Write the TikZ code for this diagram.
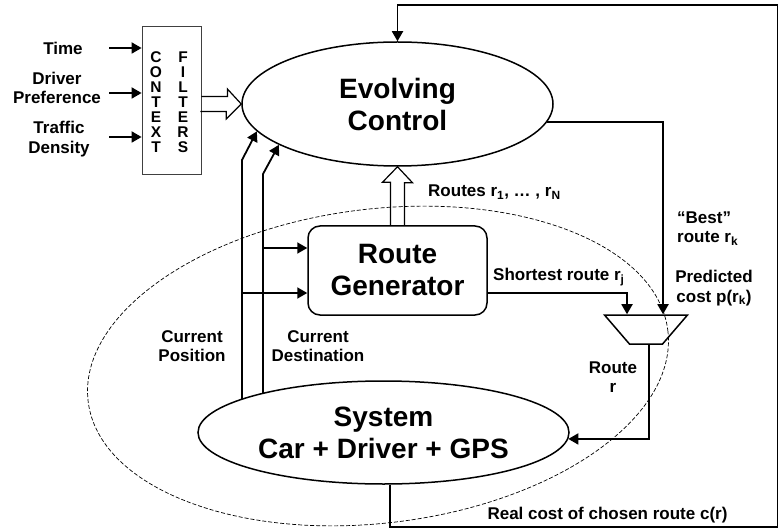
\documentclass[tikz,border=0pt]{standalone}
\usepackage{fontspec}
\setmainfont{Liberation Sans}
\usetikzlibrary{arrows.meta,shapes.geometric,calc}

\begin{document}
\begin{tikzpicture}[x=1pt,y=-1pt,
  lbl/.style={font=\fontsize{17}{19.5}\selectfont\bfseries,align=center,inner sep=0pt},
  big/.style={font=\fontsize{28}{32}\selectfont\bfseries,align=center},
  letters/.style={font=\fontsize{15.5}{15}\selectfont\bfseries,align=center,inner sep=0pt},
  blk/.style={draw,line width=1.5pt,inner sep=0pt},
  arr/.style={line width=1.8pt,-{Triangle[length=10pt,width=11pt]}},
  fat/.style={line width=1.2pt,line join=miter}]
\useasboundingbox (0,0) rectangle (778,529);

% dashed boundary round the loop
\draw[line width=0.7pt,dash pattern=on 4pt off 2pt,rotate around={7:(378,366)}] (378,366) ellipse [x radius=292,y radius=157];

\node[blk,ellipse,minimum width=311pt,minimum height=124pt,big] (EC) at (397.5,104) {Evolving\\Control};
\node[blk,rectangle,rounded corners=12pt,minimum width=179pt,minimum height=89pt,big] (RG) at (397.5,270.5) {Route\\Generator};
\node[blk,ellipse,minimum width=371pt,minimum height=103pt,big] (SY) at (383.5,432.5) {System\\Car + Driver + GPS};
\node[blk,inner sep=2pt,trapezium,shape border rotate=180,trapezium angle=53,trapezium stretches=true,minimum width=83pt,minimum height=29pt] (MX) at (646,329.5) {};

% context filters
\node[draw=black!75,line width=0.8pt,minimum width=59pt,minimum height=148pt,inner sep=0pt] (CF) at (171.5,100) {};
\node[letters] (ctx) at (156,102) {C\\O\\N\\T\\E\\X\\T};
\node[letters] (flt) at (183,102) {F\\I\\L\\T\\E\\R\\S};

\node[lbl] (tm) at (63,48) {Time};
\node[lbl] (dp) at (57,88) {Driver\\Preference};
\node[lbl] (td) at (59,139) {Traffic\\Density};
\coordinate (tmin) at (109,48);
\coordinate (dpin) at (109,93);
\coordinate (tdin) at (109,137);
\draw[arr] (tmin) -- (tmin -| CF.west);
\draw[arr] (dpin) -- (dpin -| CF.west);
\draw[arr] (tdin) -- (tdin -| CF.west);

% hollow arrows
\draw[fat] ($(CF.east|-EC.west)+(0,-7.5)$) -- ++(26,0) -- ++(0,-7.5) -- (EC.west) -- ++(-15,15) -- ++(0,-7.5) -- ++(-26,0);
\draw[fat] ($(RG.north)+(-7,0)$) -- ++(0,-43) -- ++(-8,0) -- (EC.south) -- ++(15,16) -- ++(-8,0) -- ++(0,43);

% position and destination
\coordinate (cpos) at (242,160);
\coordinate (cdst) at (263,174);
\draw[arr] (SY.167 -| cpos) -- (cpos) -- (EC.191);
\draw[arr] (SY.162 -| cdst) -- (cdst) -- (EC.199);
\draw[arr] (cdst |- 0,248) -- (RG.west |- 0,248);
\draw[arr] (cpos |- 0,293) -- (RG.west |- 0,293);

% routes into the switch
\draw[arr] (RG.east |- 0,293) -| ($(MX.north)+(-19,0)$);
\draw[arr] (EC.-7) -| ($(MX.north)+(17,0)$);
\draw[arr] ($(MX.south)+(3,0)$) |- (SY.-2);

% real cost back to the control
\coordinate (fbb) at (778,527);
\coordinate (fbt) at (778,5);
\draw[arr] (SY.-83) |- (fbb) -- (fbt) -| (EC.north);

\node[lbl,anchor=west] (rts) at (428,192) {Routes r\textsubscript{1}, … , r\textsubscript{N}};
\node[lbl,anchor=west] (shr) at (493,277) {Shortest route r\textsubscript{j}};
\node[lbl,anchor=west,align=left] (bst) at (677,228.5) {“Best”\\route r\textsubscript{k}};
\node[lbl] (prd) at (714,288) {Predicted\\ cost p(r\textsubscript{k})};
\node[lbl] (rtr) at (613,377) {Route\\r};
\node[lbl] (cps) at (192,346) {Current\\Position};
\node[lbl] (cds) at (318,346) {Current\\Destination};
\node[lbl] (rcs) at (607.5,515) {Real cost of chosen route c(r)};
\end{tikzpicture}
\end{document}
